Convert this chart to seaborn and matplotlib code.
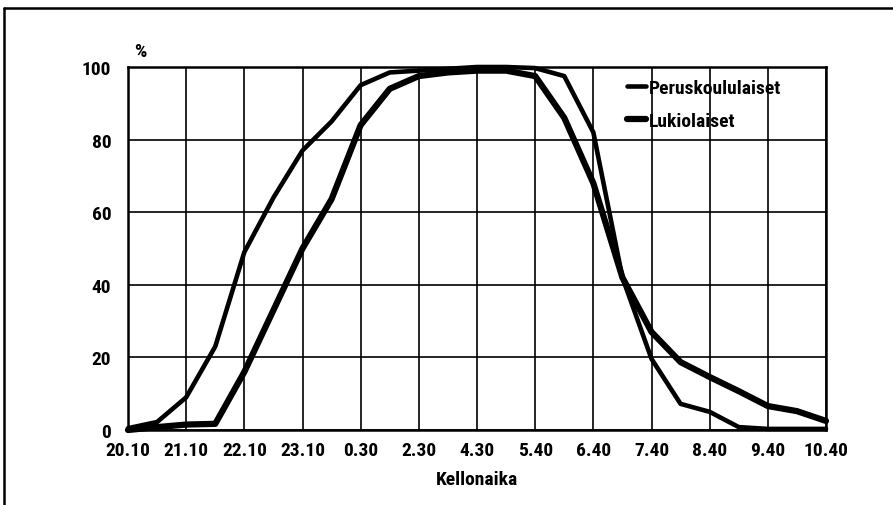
import numpy as np
import pandas as pd
import matplotlib
matplotlib.use("Agg")
import matplotlib.pyplot as plt
from matplotlib import font_manager
from matplotlib.lines import Line2D
import seaborn as sns

# tick labels on the time axis (clock times)
tick_labels = ["20.10", "21.10", "22.10", "23.10", "0.30", "2.30", "4.30",
               "5.40", "6.40", "7.40", "8.40", "9.40", "10.40"]

# share asleep (%), measured at every half step between the tick labels
peruskoululaiset = [0.5, 2.2, 9, 23, 49, 64, 77, 85, 95, 98.5, 99, 99.5, 100,
                    100, 99.7, 97.5, 82, 42, 19.6, 7.2, 5, 0.8, 0.3, 0.3, 0.3]
lukiolaiset = [0, 0.8, 1.5, 1.7, 16, 33, 50, 63.6, 84, 94, 97.5, 98.5, 99,
               99, 97.5, 86, 68, 42, 27, 18.7, 14.6, 10.7, 6.6, 5.2, 2.5]

steps = np.arange(len(peruskoululaiset)) * 0.5
df = pd.DataFrame({"step": steps, "Peruskoululaiset": peruskoululaiset,
                   "Lukiolaiset": lukiolaiset})

# pick a narrow font if one is installed
installed = {f.name for f in font_manager.fontManager.ttflist}
narrow = [n for n in ["Liberation Sans Narrow", "DejaVu Sans Condensed",
                      "Roboto Condensed", "Open Sans Condensed"] if n in installed]
if narrow:
    family = [narrow[0], "DejaVu Sans"]
    fs = 14
else:
    family = ["Liberation Sans", "DejaVu Sans"]
    fs = 12

sns.set_style("white")
plt.rcParams["font.family"] = family
plt.rcParams["font.weight"] = "bold"
plt.rcParams["font.size"] = fs
plt.rcParams["text.color"] = "black"
plt.rcParams["xtick.color"] = "black"
plt.rcParams["ytick.color"] = "black"
plt.rcParams["axes.labelcolor"] = "black"

fig = plt.figure(figsize=(8.93, 5.06), dpi=100)
ax = fig.add_axes([128 / 893, 1 - 431 / 506, 698 / 893, 363 / 506])

sns.lineplot(data=df, x="step", y="Peruskoululaiset", color="black",
             linewidth=3.3, label="Peruskoululaiset", ax=ax, clip_on=False)
sns.lineplot(data=df, x="step", y="Lukiolaiset", color="black",
             linewidth=4.5, label="Lukiolaiset", ax=ax, clip_on=False)

ax.set_xlim(0, len(tick_labels) - 1)
ax.set_ylim(0, 100)
ax.set_xticks(range(len(tick_labels)))
ax.set_xticklabels(tick_labels)
ax.set_yticks(range(0, 101, 20))
ax.grid(True, color="black", linewidth=1.2)
ax.set_axisbelow(True)
ax.tick_params(axis="both", length=0, labelsize=fs, colors="black")
ax.tick_params(axis="y", pad=12)
ax.tick_params(axis="x", pad=8)
for s in ax.spines.values():
    s.set_color("black")
    s.set_linewidth(1.8)

ax.set_ylabel("")
ax.set_xlabel("Kellonaika", fontsize=fs, fontweight="bold", labelpad=8)
ax.text(6 / 698, 1 + 16 / 363, "%", transform=ax.transAxes,
        fontsize=fs, fontweight="bold", va="center", ha="left")

leg = ax.legend(loc="upper left", bbox_to_anchor=(627 / 893, 1 - 80 / 506),
                bbox_transform=fig.transFigure, frameon=False, borderpad=0,
                borderaxespad=0, handlelength=1.0, handletextpad=0.15,
                labelspacing=0.75, fontsize=fs)

# scanned page frame: left and top edges
fig.add_artist(Line2D([4 / 893, 4 / 893], [0, 1 - 9 / 506],
                      transform=fig.transFigure, color="black", linewidth=1.8))
fig.add_artist(Line2D([4 / 893, 1], [1 - 9 / 506, 1 - 9 / 506],
                      transform=fig.transFigure, color="black", linewidth=1.8))

fig.savefig("out.png", dpi=100)
